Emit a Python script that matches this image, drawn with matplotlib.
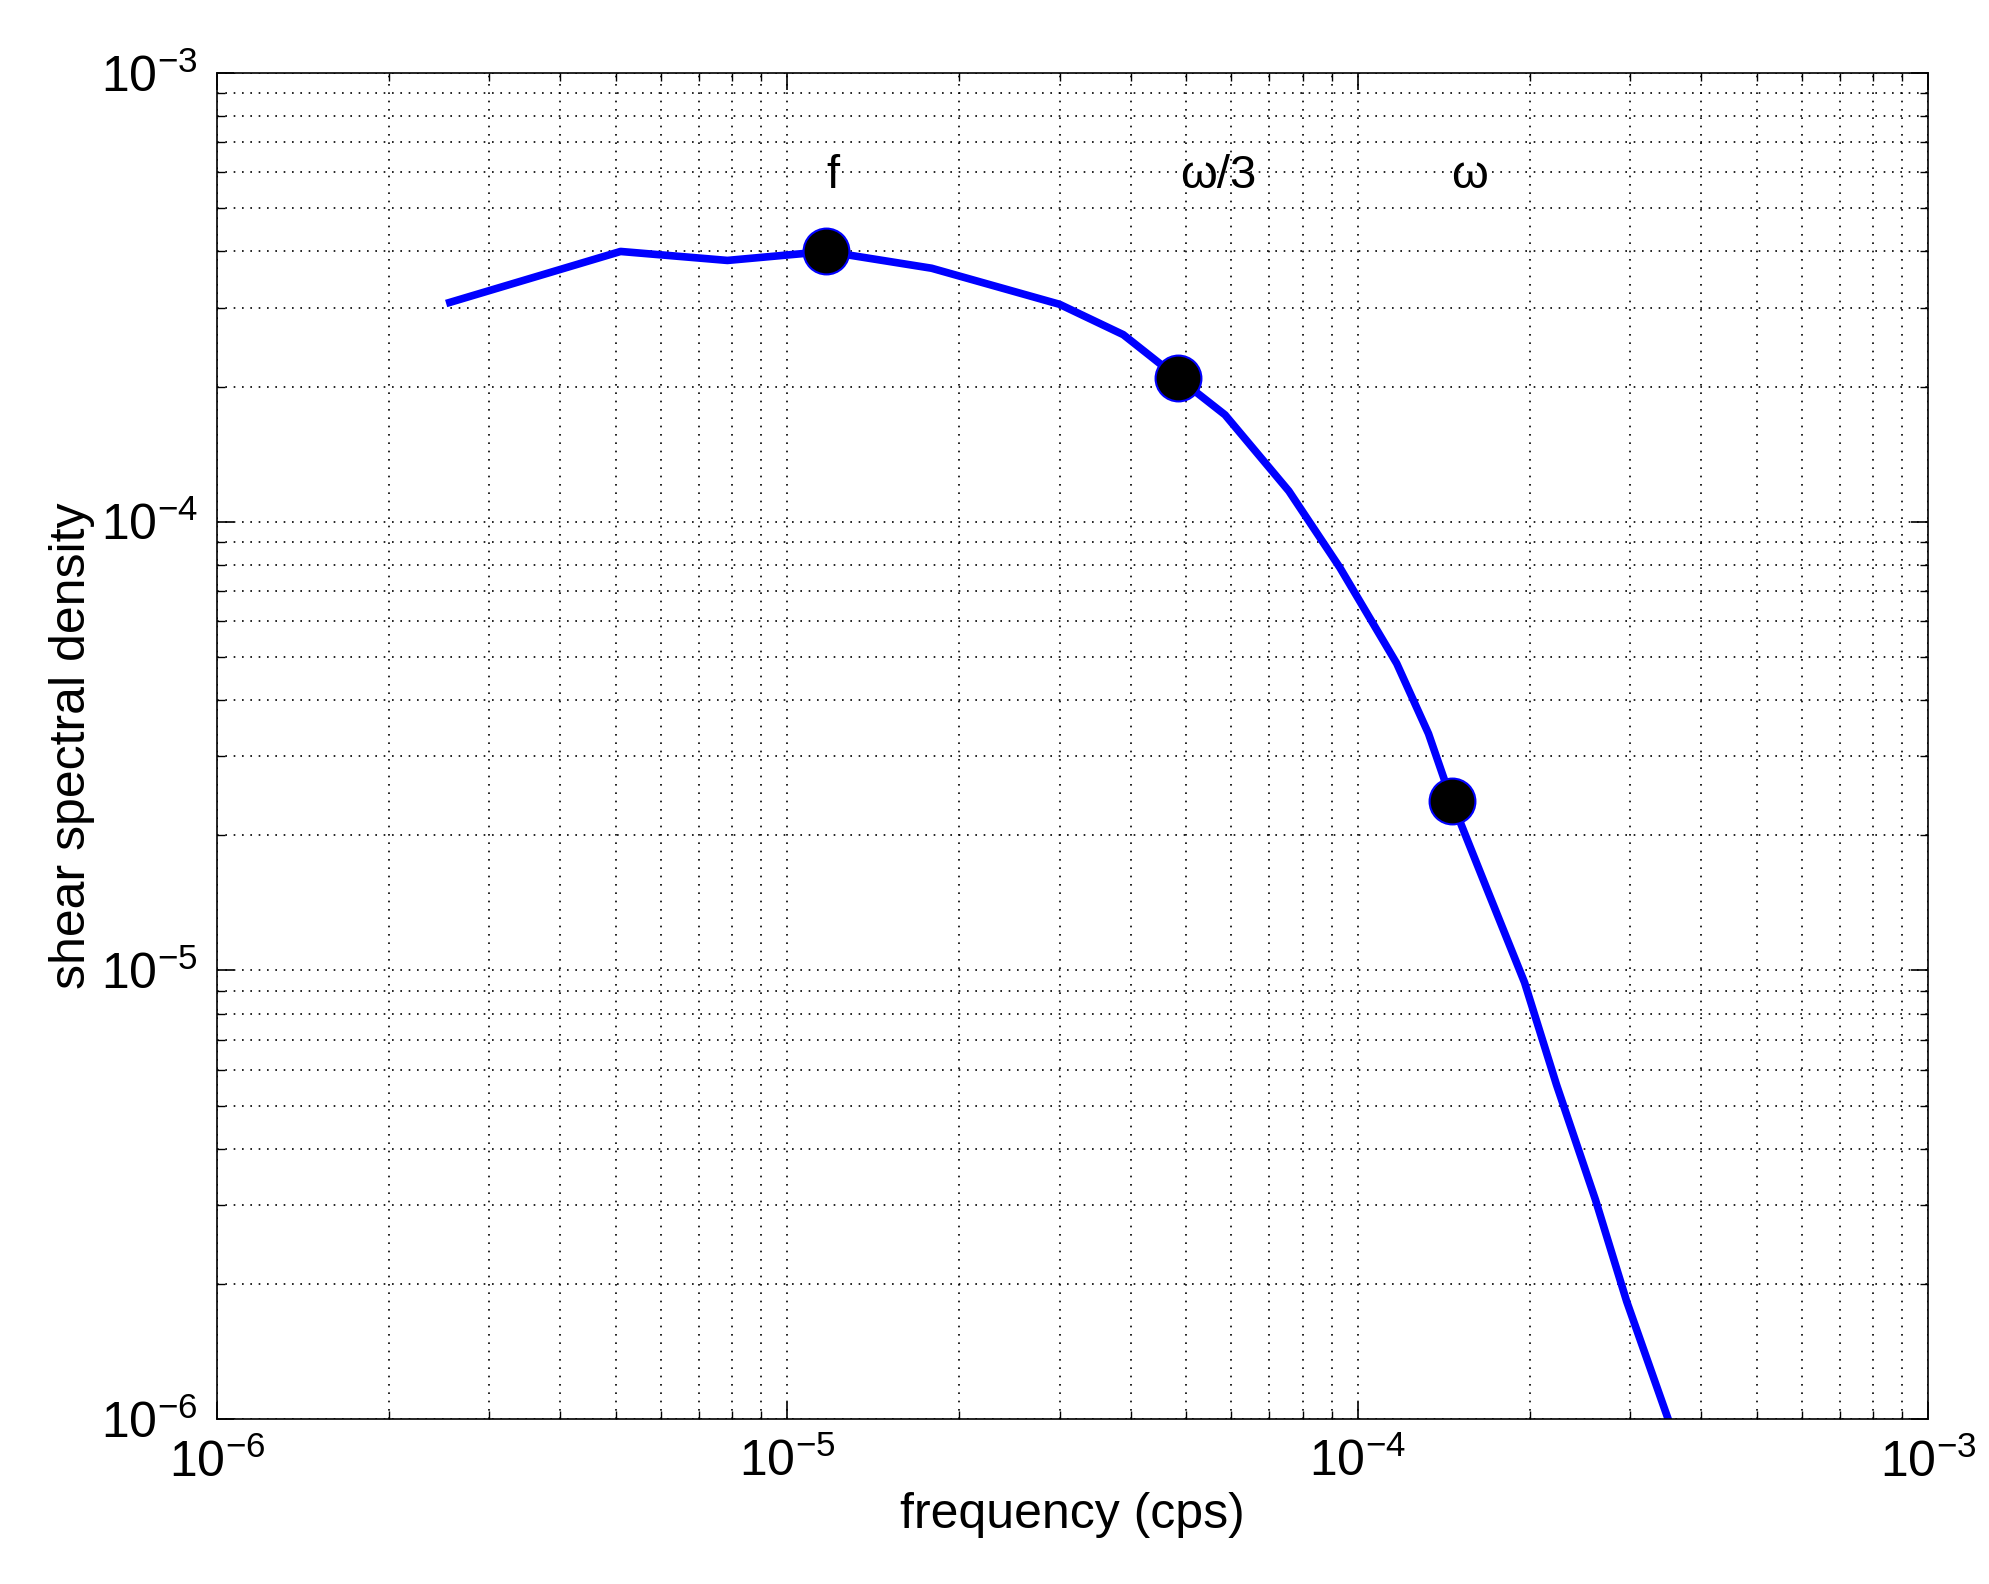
import matplotlib
matplotlib.use("Agg")
import matplotlib.pyplot as plt
from matplotlib.ticker import LogLocator, NullFormatter

plt.rcParams['font.family'] = ['Liberation Sans', 'DejaVu Sans']

# spectrum
freq = [2.56e-6, 5.1e-6, 7.85e-6, 1.17e-5, 1.79e-5, 3.0e-5, 3.88e-5, 4.84e-5,
        5.85e-5, 7.57e-5, 9.3e-5, 1.17e-4, 1.33e-4, 1.46e-4, 1.68e-4, 1.96e-4,
        2.23e-4, 2.61e-4, 2.96e-4, 3.5e-4]
spec = [3.08e-4, 4.0e-4, 3.82e-4, 4.0e-4, 3.67e-4, 3.05e-4, 2.61e-4, 2.09e-4,
        1.73e-4, 1.17e-4, 7.9e-5, 4.83e-5, 3.37e-5, 2.39e-5, 1.53e-5, 9.4e-6,
        5.56e-6, 3.08e-6, 1.83e-6, 1.0e-6]

mark_f = [1.17e-5, 4.84e-5, 1.46e-4]
mark_s = [4.0e-4, 2.09e-4, 2.39e-5]
lab_x = [1.2e-5, 5.7e-5, 1.57e-4]
lab_txt = ['f', 'ω/3', 'ω']

fig = plt.figure(figsize=(19.9, 15.84), dpi=100)
ax = fig.add_axes([0.109, 0.104, 0.860, 0.850])
ax.loglog(freq, spec, color='#0000ff', lw=5.5)
ax.plot(mark_f, mark_s, 'o', color='black', ms=33, mec='#0000ff', mew=1.5)
for x, t in zip(lab_x, lab_txt):
    ax.text(x, 5.9e-4, t, ha='center', va='center', fontsize=34)

ax.set_xlim(1e-6, 1e-3)
ax.set_ylim(1e-6, 1e-3)
ax.xaxis.set_major_locator(LogLocator(base=10, numticks=10))
ax.yaxis.set_major_locator(LogLocator(base=10, numticks=10))
ax.xaxis.set_minor_locator(LogLocator(base=10, subs=range(2, 10), numticks=20))
ax.yaxis.set_minor_locator(LogLocator(base=10, subs=range(2, 10), numticks=20))
ax.xaxis.set_minor_formatter(NullFormatter())
ax.yaxis.set_minor_formatter(NullFormatter())
ax.grid(True, which='both', color='black', ls=(0, (1, 4)), lw=1.2)
ax.tick_params(which='both', direction='in', top=True, right=True, labelsize=36)
ax.tick_params(which='major', length=12, width=1.2, pad=14)
ax.tick_params(which='minor', length=6, width=1.0)
for s in ax.spines.values():
    s.set_linewidth(1.2)
ax.set_xlabel('frequency (cps)', fontsize=36)
ax.set_ylabel('shear spectral density', fontsize=36)

fig.savefig('out.png', dpi=100, facecolor='white')
